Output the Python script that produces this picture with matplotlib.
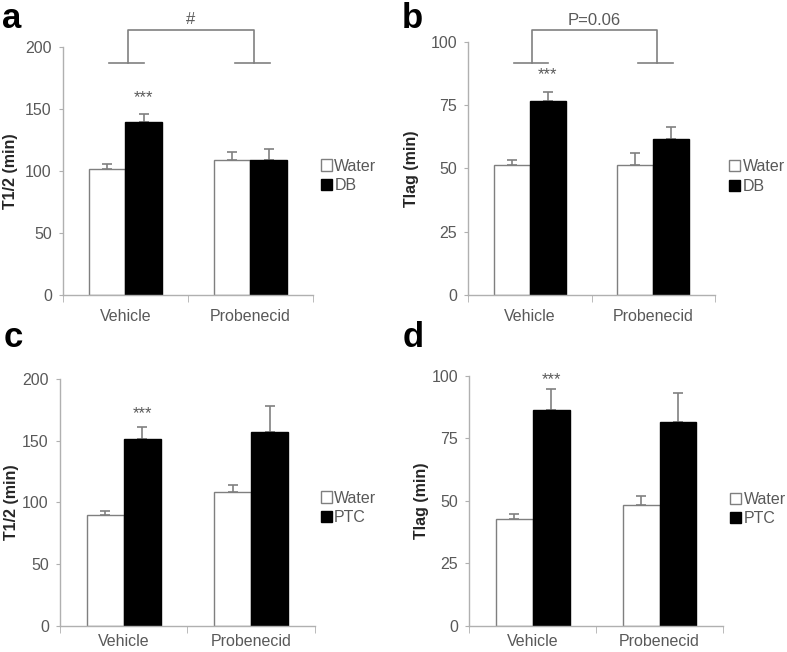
import numpy as np
import matplotlib
matplotlib.use("Agg")
import matplotlib.pyplot as plt

plt.rcParams['font.family'] = ['Liberation Sans', 'DejaVu Sans']

# data
groups = ["Vehicle", "Probenecid"]

a_water = [101.5, 108.5]
a_water_err = [4.5, 7.2]
a_db = [139.3, 109.0]
a_db_err = [6.7, 8.8]

b_water = [51.3, 51.3]
b_water_err = [1.9, 4.7]
b_db = [76.5, 61.6]
b_db_err = [3.8, 4.6]

c_water = [89.5, 108.6]
c_water_err = [3.5, 5.7]
c_ptc = [151.5, 156.6]
c_ptc_err = [9.5, 21.0]

d_water = [42.6, 48.3]
d_water_err = [2.1, 3.5]
d_ptc = [86.4, 81.4]
d_ptc_err = [8.3, 11.8]

AXIS_GRAY = "#b0b0b0"
TEXT_GRAY = "#595959"
ERR_GRAY = "#808080"


def bar_panel(ax, water, water_err, treat, treat_err, treat_name, ymax, ystep, ylabel,
              leg_pos, xpad):
    x = np.arange(len(groups))
    w = 0.29
    ax.bar(x - w / 2, water, w, color="white", edgecolor="#7f7f7f", linewidth=1.0,
           label="Water", zorder=2)
    ax.bar(x + w / 2, treat, w, color="black", edgecolor="black", linewidth=1.0,
           label=treat_name, zorder=2)
    ax.errorbar(x - w / 2, water, yerr=[np.zeros(len(x)), water_err], fmt="none",
                ecolor=ERR_GRAY, elinewidth=1.2, capsize=3.5, capthick=1.2, zorder=1)
    ax.errorbar(x + w / 2, treat, yerr=[np.zeros(len(x)), treat_err], fmt="none",
                ecolor=ERR_GRAY, elinewidth=1.2, capsize=3.5, capthick=1.2, zorder=1)

    ax.set_xlim(-0.5, 1.5)
    ax.set_ylim(0, ymax)
    ax.set_yticks(np.arange(0, ymax + 1, ystep))
    ax.set_xticks(x)
    ax.set_xticklabels(groups)
    ax.set_xticks([-0.5, 0.5, 1.5], minor=True)
    ax.tick_params(axis="x", which="major", length=0, pad=xpad, labelsize=11.5, labelcolor=TEXT_GRAY)
    ax.tick_params(axis="x", which="minor", length=5, color=AXIS_GRAY, direction="out")
    ax.tick_params(axis="y", length=3, color=AXIS_GRAY, labelsize=11.5, labelcolor=TEXT_GRAY, pad=5)
    for s in ["top", "right"]:
        ax.spines[s].set_visible(False)
    for s in ["left", "bottom"]:
        ax.spines[s].set_color(AXIS_GRAY)
        ax.spines[s].set_linewidth(1.0)
    ax.set_ylabel(ylabel, fontsize=11.5, fontweight="bold", color="#262626")
    ax.legend(loc="center left", bbox_to_anchor=leg_pos, frameon=False,
              borderpad=0, borderaxespad=0,
              handlelength=0.7, handleheight=0.7, handletextpad=0.15,
              labelspacing=0.3, fontsize=11.5, labelcolor=TEXT_GRAY)
    return x + w / 2


def bracket(ax, y_top, y_leg, label, label_y):
    kw = dict(color=ERR_GRAY, linewidth=1.2, clip_on=False)
    ax.plot([0.02, 0.02, 1.03, 1.03], [y_leg, y_top, y_top, y_leg], **kw)
    ax.plot([-0.13, 0.15], [y_leg, y_leg], **kw)
    ax.plot([0.88, 1.16], [y_leg, y_leg], **kw)
    ax.text(0.52, label_y, label, ha="center", va="center", fontsize=12,
            color=TEXT_GRAY, clip_on=False)


fig = plt.figure(figsize=(7.87, 6.52), dpi=100)

ax_a = fig.add_axes([0.080, 0.5475, 0.3177, 0.3804])
ax_b = fig.add_axes([0.5947, 0.5475, 0.3139, 0.3885])
ax_c = fig.add_axes([0.0762, 0.0399, 0.3240, 0.3793])
ax_d = fig.add_axes([0.5963, 0.0399, 0.3224, 0.3839])

xa = bar_panel(ax_a, a_water, a_water_err, a_db, a_db_err, "DB", 200, 50, "T1/2 (min)",
               (1.031, 0.48), 10)
xb = bar_panel(ax_b, b_water, b_water_err, b_db, b_db_err, "DB", 100, 25, "Tlag (min)",
               (1.057, 0.468), 10)
xc = bar_panel(ax_c, c_water, c_water_err, c_ptc, c_ptc_err, "PTC", 200, 50, "T1/2 (min)",
               (1.022, 0.477), 6)
xd = bar_panel(ax_d, d_water, d_water_err, d_ptc, d_ptc_err, "PTC", 100, 25, "Tlag (min)",
               (1.028, 0.467), 6)

ax_a.yaxis.set_label_coords(-0.18, 0.5)
ax_b.yaxis.set_label_coords(-0.198, 0.5)
ax_c.yaxis.set_label_coords(-0.16, 0.5)
ax_d.yaxis.set_label_coords(-0.157, 0.5)

star_kw = dict(ha="center", va="center", fontsize=12, color=TEXT_GRAY)
ax_a.text(xa[0], 159, "***", **star_kw)
ax_b.text(xb[0], 87, "***", **star_kw)
ax_c.text(xc[0], 172, "***", **star_kw)
ax_d.text(xd[0], 98.3, "***", **star_kw)

bracket(ax_a, 214, 187, "#", 222)
bracket(ax_b, 104.6, 91.6, "P=0.06", 108.5)

lab_kw = dict(fontsize=25, fontweight="bold", color="black", va="baseline", ha="left")
fig.text(0.003, 0.957, "a", **lab_kw)
fig.text(0.511, 0.957, "b", **lab_kw)
fig.text(0.005, 0.468, "c", **lab_kw)
fig.text(0.511, 0.468, "d", **lab_kw)

fig.savefig("out.png", dpi=100)
